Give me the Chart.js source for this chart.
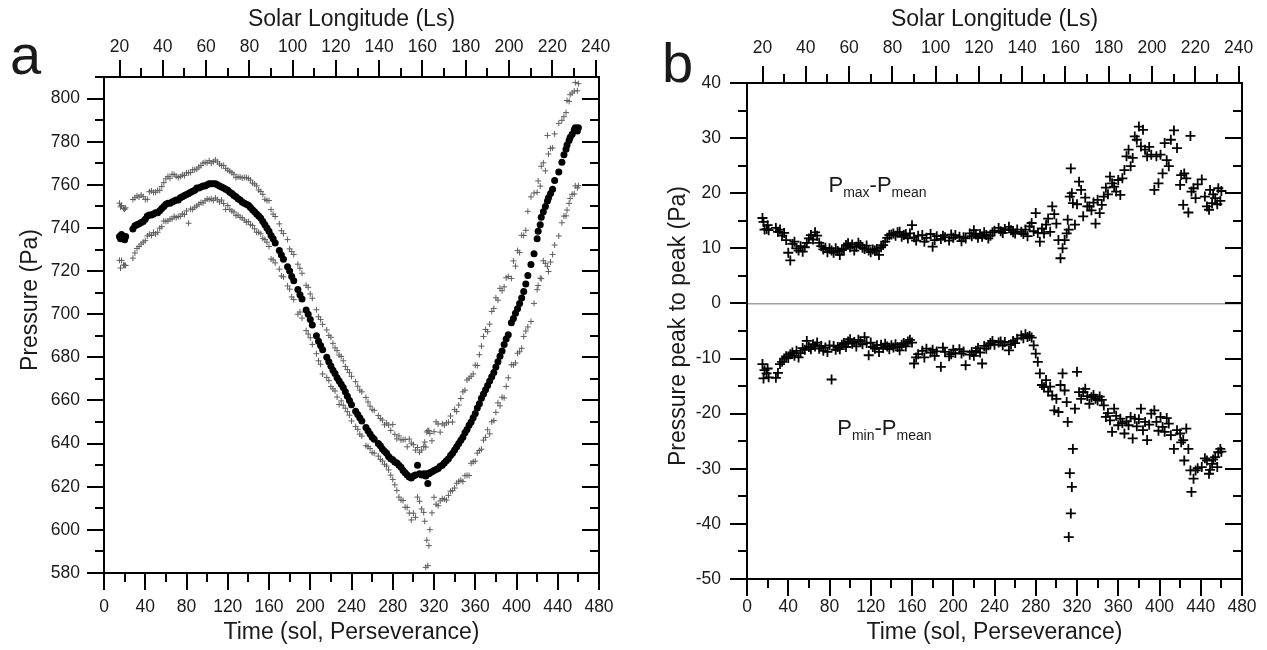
<!DOCTYPE html>
<html>
<head>
<meta charset="utf-8">
<title>Perseverance surface pressure</title>
<script src="https://cdn.jsdelivr.net/npm/chart.js@4.4.1/dist/chart.umd.min.js"></script>
<style>
  html, body { margin: 0; padding: 0; background: #fff; }
  #wrap { position: relative; width: 1267px; height: 650px; overflow: hidden; }
  canvas { position: absolute; top: 0; }
  #cvA { left: 0; }
  #cvB { left: 640px; }
</style>
</head>
<body>
<div id="wrap">
  <canvas id="cvA" width="640" height="650"></canvas>
  <canvas id="cvB" width="627" height="650"></canvas>
</div>
<script>
// ================= DATA =================
// Sol (Perseverance mission day) of each sample
const sols = [
  15, 16, 17, 19, 20, 21,
  28, 30, 32, 34, 36, 38, 40, 42, 44, 46, 48, 50, 52, 54, 56, 58, 60, 62, 64, 66, 68, 70, 72, 74, 76, 78, 80, 82, 84, 86, 88, 90, 92, 94, 96, 98,
  100, 102, 104, 106, 108, 110, 112, 114, 116, 118, 120, 122, 124, 126, 128, 130, 132, 134, 136, 138, 140, 142, 144, 146, 148, 150, 152, 154, 156, 158, 160, 162, 164, 166,
  170, 172, 174, 178, 180, 182, 184, 188, 190, 192, 196, 198, 200, 202, 206, 208, 210, 212, 216, 218, 220, 222, 224, 226, 228, 230, 232, 234, 236, 238, 240, 244, 246, 248, 250, 254, 256, 258, 260, 262,
  266, 268, 270, 272, 274, 276, 278, 280, 282, 284, 286, 288, 290, 292, 294, 296, 298, 300, 302, 304, 306, 308,
  310, 311, 312, 313, 314, 315, 316,
  318, 320, 322, 324, 326, 328, 330,
  332, 334, 336, 338, 340, 342, 344, 346, 348, 350, 352, 354, 356, 358, 360, 362, 364, 366, 368, 370, 372, 374, 376, 378, 380, 382, 384, 386, 388, 390,
  392, 395, 397, 399, 401, 403, 405, 407, 409, 411, 414, 417, 420, 421, 423, 424, 426, 428, 430, 431, 433, 435, 437, 441, 444, 446, 448, 449, 451, 452, 454, 456, 457, 459, 460
];

// Daily mean pressure (Pa)
const pMean = [
  736.0, 735.0, 737.0, 735.5, 734.5, 736.0,
  739.5, 741.0, 741.5, 742.0, 742.5, 743.0, 744.0, 745.5, 746.0, 746.0, 746.5, 747.0, 747.0, 748.0, 749.0, 750.0, 751.0, 751.5, 751.5, 752.0, 752.5, 753.0, 753.0, 754.0, 754.5, 755.0, 755.5, 756.0, 756.5, 757.0, 757.5, 758.5, 758.5, 759.0, 759.5, 759.5,
  760.0, 760.5, 760.5, 760.5, 760.5, 760.0, 759.5, 759.0, 758.5, 758.0, 757.5, 756.5, 756.0, 755.0, 754.5, 753.5, 753.0, 752.0, 751.5, 751.0, 750.5, 749.5, 748.5, 747.5, 746.5, 745.5, 744.5, 743.0, 741.5, 740.0, 738.5, 736.5, 735.0, 733.0,
  729.5, 727.5, 725.5, 722.0, 720.0, 717.5, 715.5, 711.5, 709.0, 707.0, 702.0, 700.0, 697.5, 695.0, 690.0, 687.5, 685.5, 683.5, 680.0, 678.0, 676.0, 674.0, 672.5, 670.5, 669.0, 667.5, 666.0, 664.0, 662.0, 660.0, 658.0, 655.0, 653.5, 652.0, 650.5, 647.5, 646.0, 644.5, 643.0, 642.0,
  640.0, 639.0, 637.5, 636.5, 635.5, 634.0, 633.0, 632.5, 631.5, 631.0, 630.0, 629.0, 627.5, 626.5, 625.5, 624.5, 624.0, 625.0, 625.5, 630.0, 626.0, 625.5,
  626.0, 625.5, 625.0, 626.0, 621.5, 626.0, 626.5,
  627.0, 627.5, 628.0, 628.5, 629.5, 630.0, 631.0,
  632.0, 633.0, 634.5, 635.5, 637.0, 638.5, 640.0, 641.5, 643.0, 645.0, 646.5, 648.5, 650.0, 652.0, 654.0, 656.5, 658.5, 661.0, 663.0, 665.0, 667.0, 669.0, 671.0, 673.0, 675.5, 678.0, 680.5, 683.0, 686.0, 688.5,
  690.5, 696.0, 698.0, 700.5, 702.5, 705.0, 707.5, 710.5, 714.0, 718.0, 723.0, 728.0, 735.0, 738.5, 741.5, 745.0, 747.5, 750.0, 752.5, 754.0, 756.0, 758.0, 762.0, 766.0, 770.5, 774.0, 776.5, 778.5, 780.5, 782.0, 783.5, 785.5, 786.5, 785.0, 786.5
];

// Pmax - Pmean (Pa)
const dMax = [
  15.5, 14.8, 13.4, 13.5, 14.2, 13.3,
  13.7, 13.0, 13.4, 12.3, 12.8, 11.5, 9.2, 7.8, 10.8, 11.2, 10.0, 9.6, 10.4, 9.4, 10.2, 11.0, 11.8, 12.4, 11.6, 12.9, 12.3, 11.0, 10.4, 9.8, 10.1, 9.3, 10.0, 9.6, 9.2, 10.0, 9.5, 8.8, 9.7, 9.9, 10.6, 10.9,
  10.2, 10.7, 9.6, 10.3, 11.0, 10.6, 10.1, 9.9, 10.5, 9.6, 9.3, 9.8, 9.6, 9.9, 8.8, 10.2, 10.6, 11.2, 11.9, 12.4, 12.5, 12.7, 12.3, 12.9, 13.0, 12.1, 12.4, 12.6, 11.8, 12.7, 14.2, 12.0, 11.4, 12.3,
  12.4, 11.2, 11.9, 12.6, 10.3, 11.5, 12.2, 11.7, 12.3, 12.0, 11.4, 12.5, 11.9, 12.4, 12.1, 11.3, 12.0, 11.8, 12.7, 12.2, 13.3, 12.5, 11.9, 12.6, 12.1, 12.9, 12.4, 11.8, 12.3, 12.9, 13.2, 13.7, 13.1, 12.8, 13.5, 13.9, 13.3, 12.9, 12.7, 13.4,
  13.0, 12.6, 13.4, 12.2, 14.0, 14.6, 13.1, 16.4, 12.8, 11.2, 13.6, 12.7, 14.3, 15.4, 13.0, 17.6, 16.2, 14.5, 11.5, 8.2, 10.0, 11.5,
  12.7, 15.2, 13.4, 19.4, 24.5, 20.0, 18.2,
  14.3, 18.0, 22.1, 20.6, 15.8, 19.2, 17.6,
  17.6, 16.9, 18.3, 14.5, 18.8, 16.4, 17.9, 19.4, 21.0, 19.8, 23.0, 21.8, 21.2, 20.3, 22.4, 19.7, 22.7, 24.2, 26.7, 27.9, 24.9, 26.4, 30.3, 29.7, 32.1, 28.5, 31.5, 27.9, 26.7, 28.4,
  27.0, 20.6, 26.7, 21.8, 27.0, 23.6, 29.1, 26.0, 24.9, 29.7, 31.4, 28.2, 21.5, 23.3, 17.9, 23.6, 22.7, 16.5, 30.4, 20.3, 20.9, 19.1, 21.6, 22.5, 19.4, 17.6, 17.0, 20.6, 18.2, 19.8, 19.1, 18.0, 20.9, 18.6, 20.4
];

// Pmin - Pmean (Pa)
const dMin = [
  -11.0, -13.6, -12.1, -12.7, -11.8, -13.4,
  -13.5, -12.6, -11.0, -10.6, -10.0, -9.6, -9.9, -9.2, -8.9, -9.5, -8.6, -9.8, -9.0, -8.1, -8.4, -6.8, -7.9, -8.3, -7.4, -7.8, -7.1, -8.2, -7.7, -8.6, -8.0, -8.8, -7.6, -13.8, -7.7, -8.4, -7.9, -8.3, -7.5, -7.2, -7.9, -6.9,
  -6.5, -7.3, -7.0, -7.8, -6.6, -6.9, -7.4, -6.1, -7.2, -9.4, -7.1, -7.9, -8.2, -7.6, -8.8, -7.5, -8.1, -7.3, -7.8, -8.3, -7.6, -8.0, -7.4, -7.9, -8.5, -7.5, -7.2, -7.8, -6.9, -6.6, -7.1, -10.9, -9.8, -9.2,
  -8.6, -9.8, -8.2, -8.9, -8.4, -9.5, -8.7, -11.5, -8.0, -8.8, -9.6, -9.2, -8.4, -9.0, -8.3, -9.1, -8.7, -11.2, -9.3, -8.8, -9.5, -8.6, -8.1, -8.9, -10.9, -7.7, -8.2, -7.6, -7.2, -6.8, -7.5, -7.1, -6.9, -7.6, -7.0, -8.5, -7.4, -6.8, -7.2, -6.4,
  -5.8, -6.3, -5.6, -6.1, -5.9, -6.2, -7.6, -9.1, -10.6, -12.7, -14.8, -15.2, -13.9, -16.0, -15.1, -16.7, -19.4, -17.3, -19.7, -14.8, -12.7, -15.8,
  -17.9, -21.5, -42.4, -30.8, -38.1, -33.3, -26.4,
  -19.1, -12.4, -16.1, -17.3, -16.1, -15.5, -16.8,
  -18.2, -17.0, -16.6, -17.3, -17.6, -16.9, -17.5, -18.5, -20.6, -19.9, -21.2, -23.3, -19.1, -20.4, -22.1, -20.9, -21.7, -23.6, -21.4, -22.1, -20.6, -24.5, -20.9, -22.3, -21.0, -19.1, -23.0, -21.5, -24.8, -22.0,
  -20.0, -19.4, -21.5, -23.1, -20.6, -22.4, -23.3, -20.8, -21.8, -23.9, -26.4, -23.0, -23.6, -25.2, -24.8, -28.5, -22.7, -26.4, -30.3, -34.2, -31.8, -30.3, -29.9, -29.7, -28.1, -28.5, -30.9, -30.2, -29.1, -28.3, -27.9, -29.7, -27.0, -26.4, -26.9
];

// Axis ticks (labelled = major, unlabelled = minor)
const solTicks  = [0, 40, 80, 120, 160, 200, 240, 280, 320, 360, 400, 440, 480];
const solMinor  = [20, 60, 100, 140, 180, 220, 260, 300, 340, 380, 420, 460];
const lsTicks   = [20, 40, 60, 80, 100, 120, 140, 160, 180, 200, 220, 240];
const lsMinor   = [30, 50, 70, 90, 110, 130, 150, 170, 190, 210, 230];
const presTicks = [580, 600, 620, 640, 660, 680, 700, 720, 740, 760, 780, 800];
const presMinor = [590, 610, 630, 650, 670, 690, 710, 730, 750, 770, 790, 810];
const diffTicks = [-50, -40, -30, -20, -10, 0, 10, 20, 30, 40];
const diffMinor = [-45, -35, -25, -15, -5, 5, 15, 25, 35];

const LS_MIN = 12.8, LS_MAX = 241.6;

// ================= STYLE =================
const FONT = "'Liberation Sans', Arial, Helvetica, sans-serif";
const INK = '#1a1a1a';
const NONE = 'rgba(0,0,0,0)';
const MAJOR_LEN = 17, MINOR_LEN = 9;
const TICK_SIZE = 17.5, TITLE_SIZE = 23;

Chart.defaults.font.family = FONT;

// ================= HELPERS =================
function makeScale({ axis, position, min, max, ticks, size, pad, title, titlePad, grid }) {
  return {
    type: 'linear', axis, position, min, max,
    afterBuildTicks: sc => { sc.ticks = ticks.map(v => ({ value: v })); },
    afterFit: sc => { if (axis === 'x') sc.height = size; else sc.width = size; },
    border: { display: false },
    grid: Object.assign({
      drawOnChartArea: false, drawTicks: true, tickLength: MAJOR_LEN,
      tickColor: NONE, color: NONE
    }, grid || {}),
    ticks: {
      font: { family: FONT, size: TICK_SIZE }, color: INK, padding: pad,
      autoSkip: false, maxRotation: 0, callback: v => String(v)
    },
    title: title
      ? { display: true, text: title, color: INK, font: { family: FONT, size: TITLE_SIZE }, padding: titlePad }
      : { display: false }
  };
}

// frame, tick marks (major + minor) and free text; config kept in the closure
function makeDecor(cfg) {
  return {
    id: 'decor',
    afterDraw(chart) {
      const { ctx, chartArea: a } = chart;
      ctx.save();
      ctx.strokeStyle = '#000';
      ctx.lineWidth = 2;
      ctx.strokeRect(a.left, a.top, a.right - a.left, a.bottom - a.top);

      for (const m of cfg.marks) {
        const sc = chart.scales[m.scale];
        for (const [vals, len] of [[m.major, MAJOR_LEN], [m.minor, MINOR_LEN]]) {
          for (const v of vals) {
            const p = Math.round(sc.getPixelForValue(v));
            ctx.beginPath();
            if (m.side === 'left')       { ctx.moveTo(a.left - len, p);  ctx.lineTo(a.left, p); }
            else if (m.side === 'right') { ctx.moveTo(a.right - len, p); ctx.lineTo(a.right, p); }
            else if (m.side === 'top')   { ctx.moveTo(p, a.top - len);   ctx.lineTo(p, a.top); }
            else                         { ctx.moveTo(p, a.bottom);      ctx.lineTo(p, a.bottom + len); }
            ctx.stroke();
          }
        }
      }

      ctx.fillStyle = INK;
      for (const t of cfg.texts) {
        ctx.save();
        let x = t.x, y = t.y;
        if (t.at) {
          x = chart.scales.x.getPixelForValue(t.at[0]);
          y = chart.scales.y.getPixelForValue(t.at[1]);
        }
        ctx.translate(x, y);
        if (t.rotate) ctx.rotate(t.rotate);
        ctx.textBaseline = t.baseline || 'alphabetic';
        if (t.parts) {
          ctx.textAlign = 'left';
          let cx = 0;
          for (const p of t.parts) {
            ctx.font = p.size + 'px ' + FONT;
            ctx.fillText(p.t, cx, p.dy || 0);
            cx += ctx.measureText(p.t).width;
          }
        } else {
          ctx.textAlign = t.align || 'left';
          ctx.font = t.size + 'px ' + FONT;
          ctx.fillText(t.text, 0, 0);
        }
        ctx.restore();
      }
      ctx.restore();
    }
  };
}

const baseOptions = {
  responsive: false,
  animation: false,
  devicePixelRatio: 1,
  plugins: { legend: { display: false }, tooltip: { enabled: false } }
};

// ================= PANEL A =================
const meanPts  = sols.map((s, i) => ({ x: s, y: pMean[i] }));
const upperPts = sols.map((s, i) => ({ x: s, y: pMean[i] + dMax[i] }));
const lowerPts = sols.map((s, i) => ({ x: s, y: pMean[i] + dMin[i] }));

new Chart(document.getElementById('cvA'), {
  type: 'scatter',
  data: {
    datasets: [
      { data: upperPts, pointStyle: 'cross', pointRadius: 3, borderColor: '#5e5e5e', borderWidth: 1 },
      { data: lowerPts, pointStyle: 'cross', pointRadius: 3, borderColor: '#5e5e5e', borderWidth: 1 },
      { data: meanPts, pointStyle: 'circle', pointRadius: 3.5, backgroundColor: '#000', borderWidth: 0 }
    ]
  },
  options: Object.assign({}, baseOptions, {
    layout: { padding: { left: 0, right: 41, top: 0, bottom: 0 } },
    scales: {
      x: makeScale({ axis: 'x', position: 'bottom', min: 0, max: 480, ticks: solTicks, size: 77, pad: 7,
                     title: 'Time (sol, Perseverance)', titlePad: { top: 0, bottom: 4 } }),
      ls: makeScale({ axis: 'x', position: 'top', min: LS_MIN, max: LS_MAX, ticks: lsTicks, size: 77, pad: 2,
                      title: 'Solar Longitude (Ls)', titlePad: { top: 6, bottom: 0 } }),
      y: makeScale({ axis: 'y', position: 'left', min: 580, max: 810, ticks: presTicks, size: 104, pad: 7 })
    }
  }),
  plugins: [makeDecor({
    marks: [
      { scale: 'x', side: 'bottom', major: solTicks, minor: solMinor },
      { scale: 'ls', side: 'top', major: lsTicks, minor: lsMinor },
      { scale: 'y', side: 'left', major: presTicks, minor: presMinor },
      { scale: 'y', side: 'right', major: presTicks, minor: presMinor }
    ],
    texts: [
      { text: 'a', x: 10, y: 74, size: 56 },
      { text: 'Pressure (Pa)', x: 31, y: 300, size: TITLE_SIZE, align: 'center', baseline: 'middle', rotate: -Math.PI / 2 }
    ]
  })]
});

// ================= PANEL B =================
const maxPts = sols.map((s, i) => ({ x: s, y: dMax[i] }));
const minPts = sols.map((s, i) => ({ x: s, y: dMin[i] }));

new Chart(document.getElementById('cvB'), {
  type: 'scatter',
  data: {
    datasets: [
      { data: maxPts, pointStyle: 'cross', pointRadius: 5, borderColor: '#000', borderWidth: 1.8 },
      { data: minPts, pointStyle: 'cross', pointRadius: 5, borderColor: '#000', borderWidth: 1.8 }
    ]
  },
  options: Object.assign({}, baseOptions, {
    layout: { padding: { left: 0, right: 25, top: 0, bottom: 0 } },
    scales: {
      x: makeScale({ axis: 'x', position: 'bottom', min: 0, max: 480, ticks: solTicks, size: 71, pad: 1,
                     title: 'Time (sol, Perseverance)', titlePad: { top: 0, bottom: 4 } }),
      ls: makeScale({ axis: 'x', position: 'top', min: LS_MIN, max: LS_MAX, ticks: lsTicks, size: 83, pad: 7,
                      title: 'Solar Longitude (Ls)', titlePad: { top: 6, bottom: 0 } }),
      y: makeScale({ axis: 'y', position: 'left', min: -50, max: 40, ticks: diffTicks, size: 107, pad: 9,
                     grid: { drawOnChartArea: true, lineWidth: 1.5,
                             color: c => (c.tick && c.tick.value === 0 ? '#a0a0a0' : NONE) } })
    }
  }),
  plugins: [makeDecor({
    marks: [
      { scale: 'x', side: 'bottom', major: solTicks, minor: solMinor },
      { scale: 'ls', side: 'top', major: lsTicks, minor: lsMinor },
      { scale: 'y', side: 'left', major: diffTicks, minor: diffMinor },
      { scale: 'y', side: 'right', major: diffTicks, minor: diffMinor }
    ],
    texts: [
      { text: 'b', x: 22, y: 82, size: 56 },
      { text: 'Pressure peak to peak (Pa)', x: 39, y: 326, size: TITLE_SIZE, align: 'center', baseline: 'middle', rotate: -Math.PI / 2 },
      { at: [79, 20.2], parts: [{ t: 'P', size: 22 }, { t: 'max', size: 14, dy: 5 }, { t: '-P', size: 22 }, { t: 'mean', size: 14, dy: 5 }] },
      { at: [87.5, -23.9], parts: [{ t: 'P', size: 22 }, { t: 'min', size: 14, dy: 5 }, { t: '-P', size: 22 }, { t: 'mean', size: 14, dy: 5 }] }
    ]
  })]
});
</script>
</body>
</html>
